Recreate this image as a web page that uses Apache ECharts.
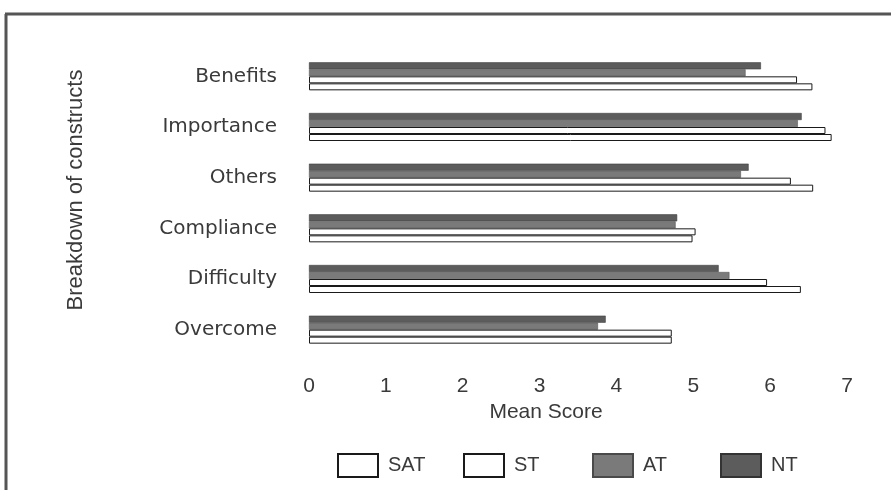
<!DOCTYPE html>
<html>
<head>
<meta charset="utf-8">
<script src="https://cdn.jsdelivr.net/npm/echarts@6/dist/echarts.min.js"></script>
<style>
html,body{margin:0;padding:0;background:#fff;}
#chart{width:891px;height:490px;}
</style>
</head>
<body>
<div id="chart"></div>
<script>
const categories = ['Benefits', 'Importance', 'Others', 'Compliance', 'Difficulty', 'Overcome'];
const seriesNames = ['SAT', 'ST', 'AT', 'NT'];
const satValues = [6.55, 6.80, 6.56, 4.99, 6.40, 4.72];
const stValues  = [6.35, 6.72, 6.27, 5.03, 5.96, 4.72];
const atValues  = [5.68, 6.36, 5.62, 4.77, 5.47, 3.76];
const ntValues  = [5.88, 6.41, 5.72, 4.79, 5.33, 3.86];
const xTicks = [0, 1, 2, 3, 4, 5, 6, 7];

const textColor = '#3a3a3a';
const sansFont = '"Liberation Sans", Arial, sans-serif';
const wideFont = '"DejaVu Sans", sans-serif';
const narrowFont = '"Liberation Sans Narrow", "Liberation Sans", Arial, sans-serif';

const styles = {
  SAT: { color: '#ffffff', borderColor: '#1a1a1a', borderWidth: 1 },
  ST:  { color: '#ffffff', borderColor: '#1a1a1a', borderWidth: 1 },
  AT:  { color: '#7a7a7a', borderColor: '#4a4a4a', borderWidth: 0.5 },
  NT:  { color: '#5c5c5c', borderColor: '#333333', borderWidth: 0.5 }
};
const dataBySeries = { SAT: satValues, ST: stValues, AT: atValues, NT: ntValues };
// drawing order inside each band: NT on top, SAT at bottom
const drawOrder = seriesNames.slice().reverse();
// legend item left edges (layout only)
const legendLefts = [332, 458, 587, 715];

const chart = echarts.init(document.getElementById('chart'), null, { renderer: 'canvas' });
chart.setOption({
  backgroundColor: '#ffffff',
  animation: false,
  textStyle: { fontFamily: sansFont, color: textColor },
  grid: { left: 309, right: 44, top: 51, bottom: 135, containLabel: false },
  xAxis: {
    type: 'value',
    min: xTicks[0],
    max: xTicks[xTicks.length - 1],
    interval: 1,
    axisLine: { show: false },
    axisTick: { show: false },
    splitLine: { show: false },
    axisLabel: { color: textColor, fontSize: 21, margin: 21, fontFamily: narrowFont },
    name: 'Mean Score',
    nameLocation: 'middle',
    nameGap: 45,
    nameTextStyle: { color: textColor, fontSize: 21, fontFamily: sansFont, padding: [0, 64, 0, 0] }
  },
  yAxis: {
    type: 'category',
    data: categories,
    inverse: true,
    axisLine: { show: false },
    axisTick: { show: false },
    splitLine: { show: false },
    axisLabel: { color: textColor, fontSize: 20, margin: 32, fontFamily: wideFont },
    name: 'Breakdown of constructs',
    nameLocation: 'middle',
    nameGap: 222,
    nameRotate: 90,
    nameTextStyle: { color: textColor, fontSize: 22, fontFamily: sansFont, padding: [0, 0, 0, 26] }
  },
  legend: seriesNames.map((name, i) => ({
    top: 448,
    left: legendLefts[i],
    itemWidth: 40,
    itemHeight: 23,
    itemGap: 0,
    icon: 'rect',
    textStyle: { color: textColor, fontSize: 20, fontFamily: narrowFont, padding: [0, 0, 0, 5] },
    data: [name]
  })),
  series: drawOrder.map(name => ({
    name: name,
    type: 'bar',
    data: dataBySeries[name],
    barWidth: 7,
    barGap: '0%',
    itemStyle: styles[name]
  })),
  graphic: [
    { type: 'line', shape: { x1: 5, y1: 14, x2: 891, y2: 14 }, style: { stroke: '#555', lineWidth: 3 } },
    { type: 'line', shape: { x1: 6, y1: 14, x2: 6, y2: 490 }, style: { stroke: '#555', lineWidth: 3 } }
  ]
});
</script>
</body>
</html>
